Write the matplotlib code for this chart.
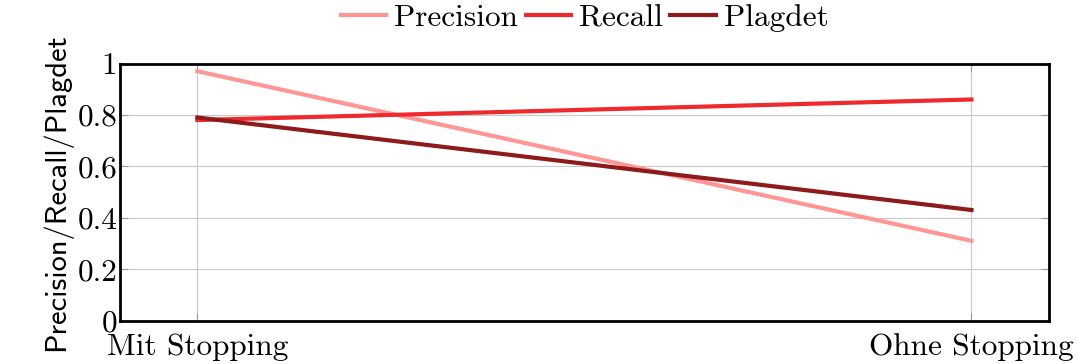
import matplotlib
matplotlib.use("Agg")
import matplotlib.pyplot as plt

# runs with and without stopword removal
settings = ["Mit Stopping", "Ohne Stopping"]
precision = [0.97, 0.31]
recall = [0.78, 0.86]
plagdet = [0.79, 0.43]

plt.rcParams["font.family"] = "cmr10"
plt.rcParams["axes.formatter.use_mathtext"] = True
plt.rcParams["mathtext.fontset"] = "cm"

fig = plt.figure(figsize=(10.78, 3.64), dpi=100)
ax = fig.add_axes([0.1113, 0.1195, 0.8617, 0.706])

x = range(len(settings))
ax.plot(x, precision, color="#FF9696", lw=3, label="Precision")
ax.plot(x, recall, color="#EE2A2E", lw=3, label="Recall")
ax.plot(x, plagdet, color="#8E1A1C", lw=3, label="Plagdet")

ax.set_xlim(-0.1, 1.1)
ax.set_ylim(0, 1)
ax.set_xticks(list(x))
ax.set_xticklabels(settings)
ax.set_yticks([0, 0.2, 0.4, 0.6, 0.8, 1])
ax.set_yticklabels(["0", "0.2", "0.4", "0.6", "0.8", "1"])
ax.grid(True, color="#C8C8C8", lw=0.8)
ax.set_axisbelow(True)
ax.tick_params(axis="both", direction="in", labelsize=22.5, length=6, width=0.8,
               color="#999999", right=True, top=True, pad=2)
ax.tick_params(axis="x", pad=9)
for s in ax.spines.values():
    s.set_linewidth(2)

ax.set_ylabel("Precision/Recall/Plagdet", family="cmss10", fontsize=22, labelpad=4)

ax.legend(loc="lower center", bbox_to_anchor=(0.5, 1.0), ncol=3, frameon=False,
          fontsize=22.5, handlelength=1.45, handletextpad=0.25, columnspacing=0.25,
          borderaxespad=0.8, borderpad=0.2)

fig.savefig("out.png", dpi=100)
